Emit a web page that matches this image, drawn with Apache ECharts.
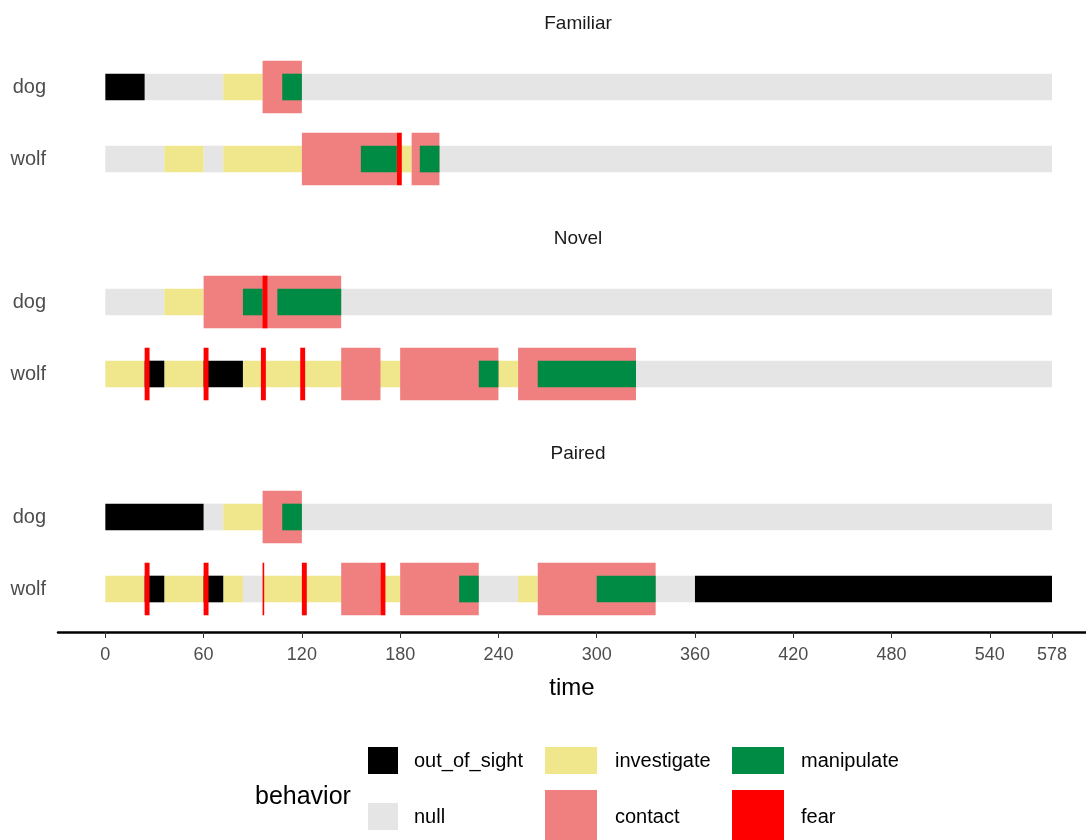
<!DOCTYPE html>
<html><head><meta charset="utf-8">
<script src="https://cdn.jsdelivr.net/npm/echarts@6/dist/echarts.min.js"></script>
<style>html,body{margin:0;padding:0;background:#fff}#c{width:1086px;height:840px}</style>
</head><body><div id="c"></div>
<script>
const panels = ['Familiar', 'Novel', 'Paired'];
const animals = ['wolf', 'dog']; // bottom to top
const behaviors = ['null', 'investigate', 'out_of_sight', 'contact', 'manipulate', 'fear'];
const behaviorColors = {null:'#e5e5e5', investigate:'#f0e68c', out_of_sight:'#000000', contact:'#f08080', manipulate:'#008b45', fear:'#ff0000'};
const tickValues = [0, 60, 120, 180, 240, 300, 360, 420, 480, 540, 578];

const familiarDog = [['out_of_sight',0,24],['null',24,72],['investigate',72,96],['null',120,578],['contact',96,120],['manipulate',108,120]];
const familiarWolf = [['null',0,36],['investigate',36,60],['null',60,72],['investigate',72,120],['investigate',178,187],['null',204,578],['contact',120,178],['contact',187,204],['manipulate',156,178],['manipulate',192,204],['fear',178,181]];
const novelDog = [['null',0,36],['investigate',36,60],['null',144,578],['contact',60,144],['manipulate',84,96],['manipulate',105,144],['fear',96,99]];
const novelWolf = [['investigate',0,24],['out_of_sight',24,36],['investigate',36,60],['out_of_sight',60,84],['investigate',84,252],['null',324,578],['contact',144,168],['contact',180,240],['contact',252,324],['manipulate',228,240],['manipulate',264,324],['fear',24,27],['fear',60,63],['fear',95,98],['fear',119,122]];
const pairedDog = [['out_of_sight',0,60],['null',60,72],['investigate',72,96],['null',120,578],['contact',96,120],['manipulate',108,120]];
const pairedWolf = [['investigate',0,24],['out_of_sight',24,36],['investigate',36,60],['out_of_sight',60,72],['investigate',72,84],['null',84,96],['investigate',96,180],['null',228,252],['investigate',252,264],['null',336,360],['out_of_sight',360,578],['contact',144,168],['contact',180,228],['contact',264,336],['manipulate',216,228],['manipulate',300,336],['fear',24,27],['fear',60,63],['fear',96,97],['fear',120,123],['fear',168,171]];

const panelRows = [[familiarWolf, familiarDog],[novelWolf, novelDog],[pairedWolf, pairedDog]];

const FONT = '"Liberation Sans", Arial, sans-serif';
const tall = {contact:true, fear:true};

const gridTops = [51, 266, 481];
const grids = [], xAxes = [], yAxes = [], series = [], graphics = [];
panels.forEach((p, i) => {
  grids.push({left:58, right:0, top:gridTops[i], height:144});
  const last = i === panels.length - 1;
  xAxes.push({
    type:'value', gridIndex:i, min:-28.9, max:598.75, show:last,
    offset:7,
    splitLine:{show:false},
    axisLine:{show:last, lineStyle:{color:'#000', width:2.5}},
    axisTick:{show:last, customValues:tickValues, length:6, lineStyle:{color:'#333', width:1}},
    axisLabel:{show:last, customValues:tickValues, color:'#4d4d4d', fontSize:18, fontFamily:FONT, margin:14},
    name: last ? 'time' : '', nameLocation:'middle', nameGap:44,
    nameTextStyle:{fontSize:24, fontFamily:FONT, color:'#000'}
  });
  yAxes.push({
    type:'category', gridIndex:i, data:animals,
    axisLine:{show:false}, axisTick:{show:false}, splitLine:{show:false},
    axisLabel:{color:'#4d4d4d', fontSize:20, fontFamily:FONT, margin:12}
  });
  const items = [];
  panelRows[i].forEach((row, ci) => {
    row.forEach(seg => items.push([seg[1], seg[2], ci, behaviors.indexOf(seg[0])]));
  });
  items.sort((a, b) => a[3] - b[3]);
  series.push({
    type:'custom', xAxisIndex:i, yAxisIndex:i, data:items,
    encode:{x:[0,1], y:2},
    renderItem:(params, api) => {
      const s = api.value(0), e = api.value(1), c = api.value(2), b = behaviors[api.value(3)];
      const p0 = api.coord([s, c]), p1 = api.coord([e, c]);
      const band = api.size([0, 1])[1];
      const h = band * (tall[b] ? 0.73 : 0.37);
      return {type:'rect', shape:{x:p0[0], y:p0[1] - h/2, width:p1[0] - p0[0], height:h},
        style:{fill:behaviorColors[b]}};
    }
  });
  graphics.push({type:'text', x:578, y:gridTops[i] - 27, style:{text:p, fontSize:19, fontFamily:FONT, fill:'#1a1a1a', align:'center', verticalAlign:'middle'}});
});

// legend
const legendItems = [
  ['out_of_sight', 368, 747, 30, 27, 414, 761],
  ['null', 368, 803, 30, 27, 414, 817],
  ['investigate', 545, 747, 52, 27, 615, 761],
  ['contact', 545, 790, 52, 52, 615, 817],
  ['manipulate', 732, 747, 52, 27, 801, 761],
  ['fear', 732, 790, 52, 52, 801, 817]
];
legendItems.forEach(l => {
  graphics.push({type:'rect', shape:{x:l[1], y:l[2], width:l[3], height:l[4]}, style:{fill:behaviorColors[l[0]]}});
  graphics.push({type:'text', x:l[5], y:l[6], style:{text:l[0], fontSize:20, fontFamily:FONT, fill:'#000', verticalAlign:'middle'}});
});
graphics.push({type:'text', x:255, y:797, style:{text:'behavior', fontSize:25, fontFamily:FONT, fill:'#000', verticalAlign:'middle'}});

const chart = echarts.init(document.getElementById('c'), null, {renderer:'canvas'});
chart.setOption({
  animation:false,
  grid:grids, xAxis:xAxes, yAxis:yAxes, series:series,
  graphic:graphics
});
</script></body></html>
